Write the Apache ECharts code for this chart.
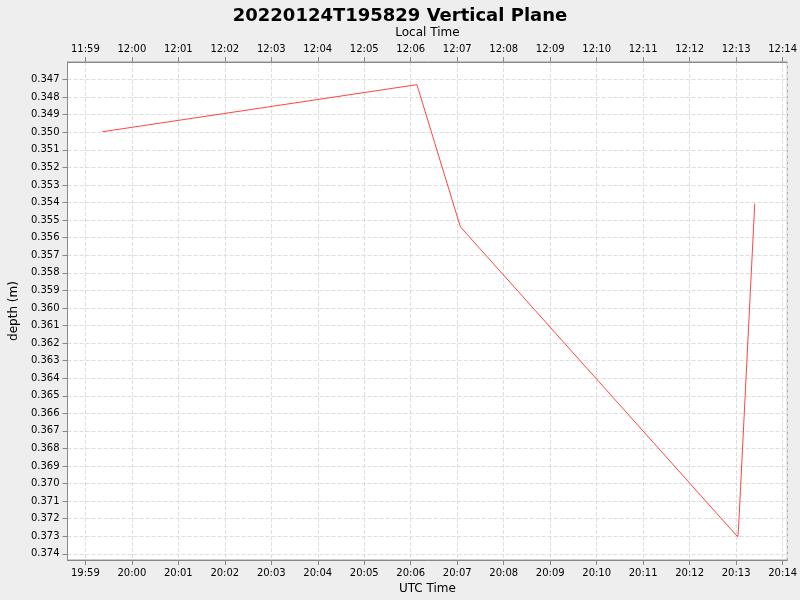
<!DOCTYPE html>
<html><head><meta charset="utf-8">
<script src="https://cdn.jsdelivr.net/npm/echarts@6/dist/echarts.min.js"></script>
<style>html,body{margin:0;background:#eeeeee}#c{width:800px;height:600px}</style>
</head><body><div id="c"></div>
<script>
const times = ["2022-01-24T19:59:22Z","2022-01-24T20:06:08Z","2022-01-24T20:07:04Z","2022-01-24T20:13:02Z","2022-01-24T20:13:03Z","2022-01-24T20:13:24Z"];
const depths = [0.34959, 0.34691, 0.35500, 0.37265, 0.37225, 0.35369];
const xMin = Date.parse("2022-01-24T19:58:37Z"), xMax = Date.parse("2022-01-24T20:14:06Z");
const pad = n => String(n).padStart(2,'0');
const fmt = (v, off) => { const d = new Date(v + off*3600000); return pad(d.getUTCHours())+':'+pad(d.getUTCMinutes()); };
const data = times.map((t,i)=>[Date.parse(t), depths[i]]);
const axisCommon = {type:'time', min:xMin, max:xMax, minInterval:60000, maxInterval:60000,
  axisLine:{lineStyle:{color:'#888'}}, axisTick:{lineStyle:{color:'#888'}},
  axisLabel:{color:'#000', fontSize:10, fontFamily:'DejaVu Sans', hideOverlap:false, showMinLabel:false, showMaxLabel:false},
  nameLocation:'middle', nameTextStyle:{color:'#000', fontSize:12, fontFamily:'DejaVu Sans'}};
const chart = echarts.init(document.getElementById('c'));
chart.setOption({
  useUTC:true, backgroundColor:'#eeeeee', animation:false,
  title:{text:'20220124T195829 Vertical Plane', left:'center', top:2, textStyle:{fontSize:18, fontWeight:'bold', fontFamily:'DejaVu Sans', color:'#000'}},
  grid:{left:62, right:8, top:62, bottom:40, show:true, backgroundColor:'#fff', borderColor:'#999'},
  xAxis:[
    Object.assign({}, axisCommon, {position:'bottom', name:'UTC Time', nameGap:22,
      splitLine:{show:true, lineStyle:{color:'#ddd', type:'dashed'}},
      axisLabel:Object.assign({}, axisCommon.axisLabel, {formatter:v=>fmt(v,0)})}),
    Object.assign({}, axisCommon, {position:'top', name:'Local Time', nameGap:20, splitLine:{show:false},
      axisLabel:Object.assign({}, axisCommon.axisLabel, {formatter:v=>fmt(v,-8)})})
  ],
  yAxis:{type:'value', inverse:true, min:0.34562, max:0.37397, interval:0.001,
    name:'depth (m)', nameLocation:'middle', nameGap:40, nameTextStyle:{color:'#000', fontSize:12, fontFamily:'DejaVu Sans'},
    axisLine:{show:true, lineStyle:{color:'#888'}}, axisTick:{show:true, lineStyle:{color:'#888'}},
    axisLabel:{color:'#000', fontSize:10, fontFamily:'DejaVu Sans', formatter:v=>v.toFixed(3), showMinLabel:false, showMaxLabel:false},
    splitLine:{lineStyle:{color:'#ddd', type:'dashed'}}},
  series:[{type:'line', data:data, xAxisIndex:0, showSymbol:false, lineStyle:{color:'#ff4444', width:1}, itemStyle:{color:'#ff4444'}}]
});
</script></body></html>
